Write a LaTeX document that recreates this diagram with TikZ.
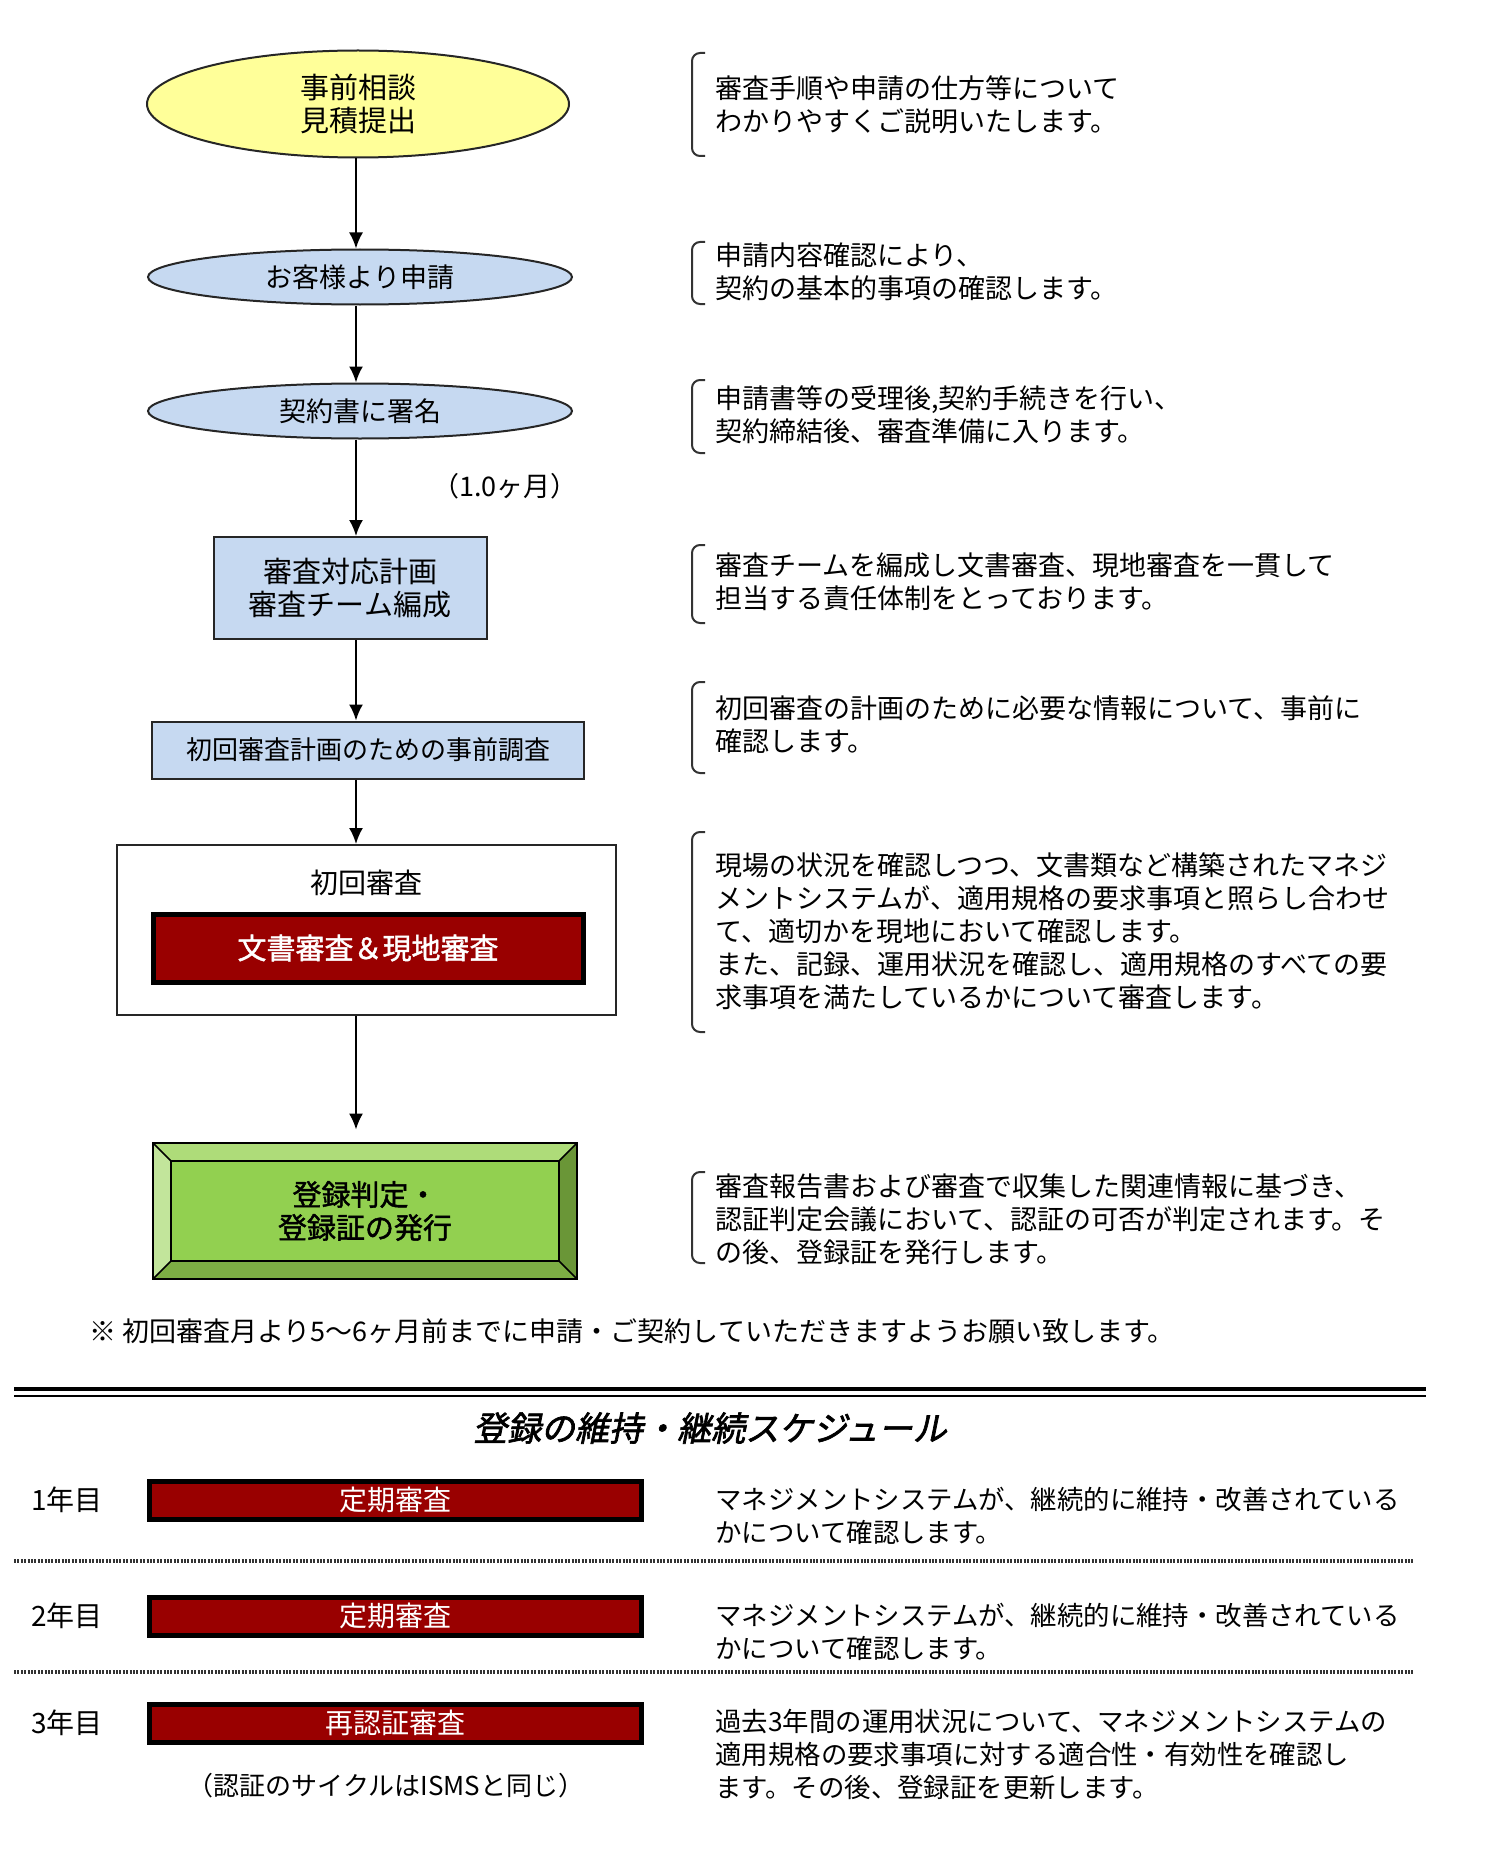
\documentclass[tikz,border=0pt]{standalone}
\usepackage{fontspec}
\setmainfont{Noto Sans CJK JP}
\newfontfamily\bjp[FakeBold=1.5]{Noto Sans CJK JP}
\newfontfamily\ttlfont[FakeSlant=0.2,FakeBold=2]{Noto Sans CJK JP}
\usetikzlibrary{shapes.geometric,arrows.meta}
\definecolor{lightyel}{HTML}{FFFF99}
\definecolor{lightblu}{HTML}{C6D9F1}
\definecolor{darkred}{HTML}{990000}
\definecolor{grnmid}{HTML}{92D050}
\definecolor{grntop}{HTML}{AEDC79}
\definecolor{grnleft}{HTML}{C2E59B}
\definecolor{grnright}{HTML}{6A9637}
\definecolor{grnbot}{HTML}{7DAE44}
\begin{document}
\begin{tikzpicture}[x=0.5pt,y=-0.5pt,
	flow/.style={-{Latex[length=8pt,width=7pt]},line width=1pt},
	oval/.style={ellipse,draw=black!85,line width=1pt,fill=lightblu,inner sep=0pt,align=center,font=\fontsize{13.5}{16.5}\selectfont},
	planbox/.style={rectangle,draw=black!85,line width=1pt,fill=lightblu,inner sep=0pt,align=center,font=\fontsize{14.5}{16.5}\selectfont},
	redbox/.style={rectangle,draw=black,line width=2.5pt,fill=darkred,text=white,inner sep=0pt},
	note/.style={anchor=west,align=left,inner sep=0pt,font=\fontsize{13.5}{16.5}\selectfont},
	brk/.style={line width=1pt,black!80,rounded corners=4pt},
	dotline/.style={line width=2pt,black!80,dash pattern=on 1pt off 0.7pt}]
	\useasboundingbox (0,0) rectangle (1500,1851);
	\coordinate (ax) at (356,0);
		\node[oval,fill=lightyel,minimum width=211pt,minimum height=53.5pt,font=\fontsize{14.5}{16.5}\selectfont] (consult) at (358,104) {事前相談\\見積提出};
		\node[oval,minimum width=212pt,minimum height=27.5pt] (apply) at (360,277) {お客様より申請};
		\node[oval,minimum width=212pt,minimum height=27.5pt] (sign) at (360,411) {契約書に署名};
		\node[planbox,minimum width=136.5pt,minimum height=51pt] (plan) at (350,588) {審査対応計画\\審査チーム編成};
		\node[planbox,minimum width=216pt,minimum height=28.5pt,font=\fontsize{13}{16}\selectfont] (survey) at (368,750) {初回審査計画のための事前調査};
		\node[rectangle,draw=black!85,line width=1pt,fill=white,minimum width=249.5pt,minimum height=85pt] (initial) at (366,930) {};
		\node[font=\fontsize{14}{16}\selectfont] (inittitle) at (366,883) {初回審査};
		\node[redbox,minimum width=215pt,minimum height=34pt,font=\bjp\fontsize{14.5}{16}\selectfont] (docaudit) at (368,948) {文書審査＆現地審査};
		\node[minimum width=212pt,minimum height=68pt] (regist) at (365,1211) {};
		\fill[grntop] (153,1143) -- (577,1143) -- (559,1161) -- (171,1161) -- cycle;
		\fill[grnleft] (153,1143) -- (171,1161) -- (171,1261) -- (153,1279) -- cycle;
		\fill[grnright] (577,1143) -- (577,1279) -- (559,1261) -- (559,1161) -- cycle;
		\fill[grnbot] (153,1279) -- (577,1279) -- (559,1261) -- (171,1261) -- cycle;
		\filldraw[fill=grnmid,draw=black,line width=1pt] (171,1161) rectangle (559,1261);
		\draw[line width=1pt] (153,1143) rectangle (577,1279);
		\foreach \a/\b in {153/171,577/559}
			{\draw[line width=0.8pt] (\a,1143) -- (\b,1161); \draw[line width=0.8pt] (\a,1279) -- (\b,1261);}
		\node[align=center,font=\bjp\fontsize{14.5}{16.5}\selectfont] (registtext) at (365,1211) {登録判定・\\登録証の発行};
		\draw[flow] (consult.south -| ax) -- (apply.north -| ax);
		\draw[flow] (apply.south -| ax) -- (sign.north -| ax);
		\draw[flow] (sign.south -| ax) -- (plan.north -| ax);
		\draw[flow] (plan.south -| ax) -- (survey.north -| ax);
		\draw[flow] (survey.south -| ax) -- (initial.north -| ax);
		\draw[flow,shorten >=6.5pt] (initial.south -| ax) -- (regist.north -| ax);
		\node[font=\fontsize{13.5}{16}\selectfont] (month) at (505,486) {（1.0ヶ月）};
		\foreach \t/\b in {53/156,242/304,380/453,545/623,682/773,832/1032,1172/1263}
			\draw[brk] (705,\t) -- (692,\t) -- (692,\b) -- (705,\b);
		\node[note] (n1) at (715,105) {審査手順や申請の仕方等について\\わかりやすくご説明いたします。};
		\node[note] (n2) at (715,272) {申請内容確認により、\\契約の基本的事項の確認します。};
		\node[note] (n3) at (715,415) {申請書等の受理後,契約手続きを行い、\\契約締結後、審査準備に入ります。};
		\node[note] (n4) at (715,582) {審査チームを編成し文書審査、現地審査を一貫して\\担当する責任体制をとっております。};
		\node[note] (n5) at (715,725) {初回審査の計画のために必要な情報について、事前に\\確認します。};
		\node[note] (n6) at (715,931) {現場の状況を確認しつつ、文書類など構築されたマネジ\\メントシステムが、適用規格の要求事項と照らし合わせ\\て、適切かを現地において確認します。\\また、記録、運用状況を確認し、適用規格のすべての要\\求事項を満たしているかについて審査します。};
		\node[note] (n7) at (715,1219) {審査報告書および審査で収集した関連情報に基づき、\\認証判定会議において、認証の可否が判定されます。そ\\の後、登録証を発行します。};
		\node[note,font=\fontsize{13.5}{16}\selectfont] (footnote) at (89,1331) {※ 初回審査月より5～6ヶ月前までに申請・ご契約していただきますようお願い致します。};
		\draw[line width=2pt] (14,1389) -- (1426,1389);
		\draw[line width=1pt] (14,1396) -- (1426,1396);
		\node[font=\ttlfont\fontsize{17}{20}\selectfont] (schedtitle) at (710,1428) {登録の維持・継続スケジュール};
		\foreach \y/\yr/\lbl in {1500/1/定期審査,1616/2/定期審査,1723/3/再認証審査}
			{\node[font=\fontsize{14}{16}\selectfont] (year\yr) at (67,\y) {\yr 年目};
			\node[redbox,minimum width=246pt,minimum height=19pt,font=\fontsize{14}{16}\selectfont] (audit\yr) at (395,\y) {\lbl};}
		\foreach \y in {1561,1672}
			\draw[dotline] (14,\y) -- (1414,\y);
		\node[note,font=\fontsize{13.2}{16.5}\selectfont] (r1) at (715,1516) {マネジメントシステムが、継続的に維持・改善されている\\かについて確認します。};
		\node[note,font=\fontsize{13.2}{16.5}\selectfont] (r2) at (715,1632) {マネジメントシステムが、継続的に維持・改善されている\\かについて確認します。};
		\node[note,font=\fontsize{13.2}{16.5}\selectfont] (r3) at (715,1754) {過去3年間の運用状況について、マネジメントシステムの\\適用規格の要求事項に対する適合性・有効性を確認し\\ます。その後、登録証を更新します。};
		\node[font=\fontsize{13}{16}\selectfont] (cycle) at (386,1786) {（認証のサイクルはISMSと同じ）};
\end{tikzpicture}
\end{document}
